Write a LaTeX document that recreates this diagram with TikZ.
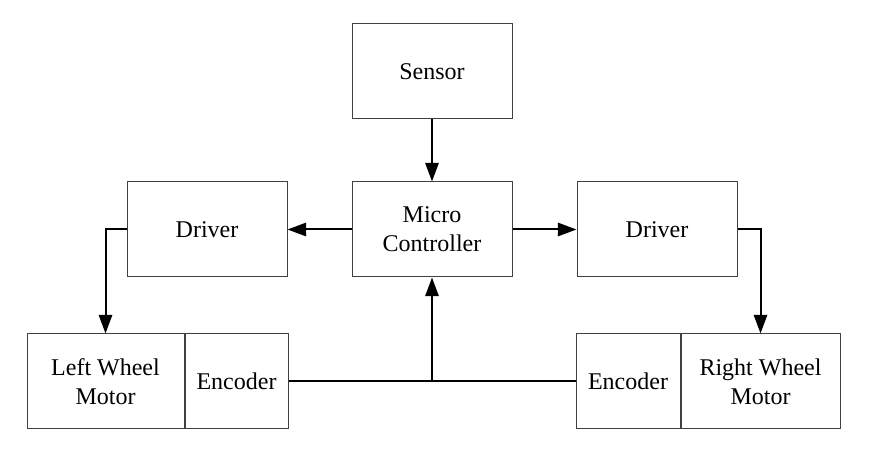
\documentclass[tikz,border=0pt]{standalone}
\usepackage{fontspec}
\setmainfont{Liberation Serif}
\usetikzlibrary{arrows.meta}
\usetikzlibrary{positioning}

\tikzset{
  blk/.style={draw=black!75,line width=0.75pt,inner sep=0pt,align=center,
    minimum height=71.25pt,font=\fontsize{18}{21.75}\selectfont},
  link/.style={line width=1.5pt,-{Triangle[length=14pt,width=10pt]}}
}

\begin{document}
\begin{tikzpicture}[line join=miter,x=0.75pt,y=0.75pt]
\useasboundingbox (0,0) rectangle (873,452);
% top row
\node[blk,minimum width=120pt] (sensor) at (432,380.5) {Sensor};
\node[blk,minimum width=120pt] (mc) at (432,222.5) {Micro\\Controller};
\node[blk,minimum width=120pt] (ldrv) at (207,222.5) {Driver};
\node[blk,minimum width=120pt] (rdrv) at (657,222.5) {Driver};
% wheels
\node[blk,minimum width=117.75pt] (lmotor) at (105.5,70.5) {Left Wheel\\Motor};
\node[blk,minimum width=77.25pt,right=0pt of lmotor] (lenc) {Encoder};
\node[blk,minimum width=119.25pt] (rmotor) at (760.5,70.5) {Right Wheel\\Motor};
\node[blk,minimum width=78pt,left=0pt of rmotor] (renc) {Encoder};
% connections
\draw[link] (sensor) -- (mc);
\draw[link] (mc) -- (ldrv);
\draw[link] (mc) -- (rdrv);
\draw[link] (ldrv.west) -| (lmotor.north);
\draw[link] (rdrv.east) -| (rmotor.north);
\draw[line width=1.5pt] (lenc.east) -- (renc.west);
\coordinate (join) at (mc.south |- lenc.east);
\draw[link] (join) -- (mc.south);
\end{tikzpicture}
\end{document}
